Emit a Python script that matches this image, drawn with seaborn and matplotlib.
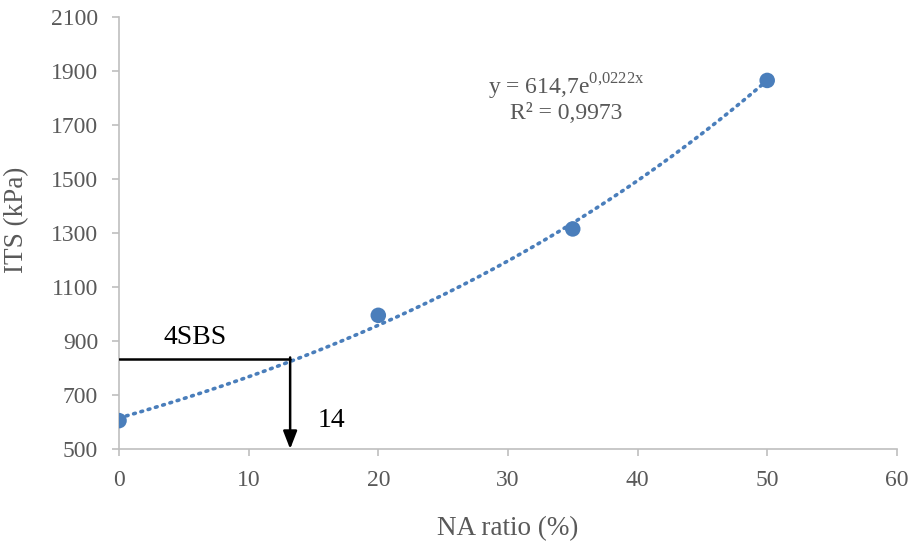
import numpy as np
import pandas as pd
import matplotlib
matplotlib.use("Agg")
import matplotlib.pyplot as plt
import seaborn as sns

# Measured ITS values vs. NA ratio
na_ratio = [0, 20, 35, 50]
its_kpa = [605, 995, 1315, 1865]

# Exponential trendline coefficients
fit_a = 614.7
fit_b = 0.0222

# Threshold reading
threshold_its = 835
threshold_na = 13.2

x_ticks = [0, 10, 20, 30, 40, 50, 60]
y_ticks = [500, 700, 900, 1100, 1300, 1500, 1700, 1900, 2100]

sns.set_theme(style="white")
plt.rcParams["font.family"] = ["Liberation Serif", "DejaVu Serif"]
plt.rcParams["mathtext.fontset"] = "custom"
plt.rcParams["mathtext.rm"] = "Liberation Serif"

gray = "#595959"
blue = "#4a7ebb"

df = pd.DataFrame({"NA": na_ratio, "ITS": its_kpa})
xs = np.linspace(0, 50, 200)
trend = pd.DataFrame({"NA": xs, "ITS": fit_a * np.exp(fit_b * xs)})

fig = plt.figure(figsize=(9.17, 5.46), dpi=100)
ax = fig.add_axes([0.1298, 0.1777, 0.8482, 0.7912])

sns.lineplot(data=trend, x="NA", y="ITS", ax=ax, color=blue, lw=2.6,
             linestyle=(0, (0.5, 1.6)), dash_capstyle="round", zorder=2)
sns.scatterplot(data=df, x="NA", y="ITS", ax=ax, color=blue, s=125,
                edgecolor="none", zorder=3)

# Threshold lines
ax.plot([0, threshold_na], [threshold_its, threshold_its], color="black", lw=1.8, zorder=4)
ax.annotate("", xy=(threshold_na, 500), xytext=(threshold_na, threshold_its + 4),
            arrowprops=dict(arrowstyle="-|>,head_width=0.35,head_length=0.9",
                            color="black", lw=1.8, shrinkA=0, shrinkB=0), zorder=4)
ax.text(5.9, 866, "4SBS", fontsize=20, color="black", ha="center", va="bottom")
ax.text(16.4, 607, "14", fontsize=20, color="black", ha="center", va="center")

ax.text(34.5, 1840, r"y = 614,7e$^{\mathrm{0{,}0222x}}$", fontsize=17, color=gray,
        ha="center", va="center")
ax.text(34.5, 1744, "R² = 0,9973", fontsize=17, color=gray, ha="center", va="center")

ax.set_xlim(0, 60)
ax.set_ylim(500, 2100)
ax.set_xticks(x_ticks)
ax.set_yticks(y_ticks)
ax.tick_params(axis="both", labelsize=17, colors=gray, length=5, width=1.2,
               direction="out", color="#bfbfbf", left=True, bottom=True)
ax.tick_params(axis="x", pad=10)
ax.tick_params(axis="y", pad=10)
ax.set_xlabel("NA ratio (%)", fontsize=19.5, color=gray, labelpad=18)
ax.set_ylabel("ITS (kPa)", fontsize=19.5, color=gray)
ax.yaxis.set_label_coords(-0.116, 0.53)

for side in ["top", "right"]:
    ax.spines[side].set_visible(False)
for side in ["left", "bottom"]:
    ax.spines[side].set_color("#bfbfbf")
    ax.spines[side].set_linewidth(1.2)

fig.savefig("out.png", dpi=100)
